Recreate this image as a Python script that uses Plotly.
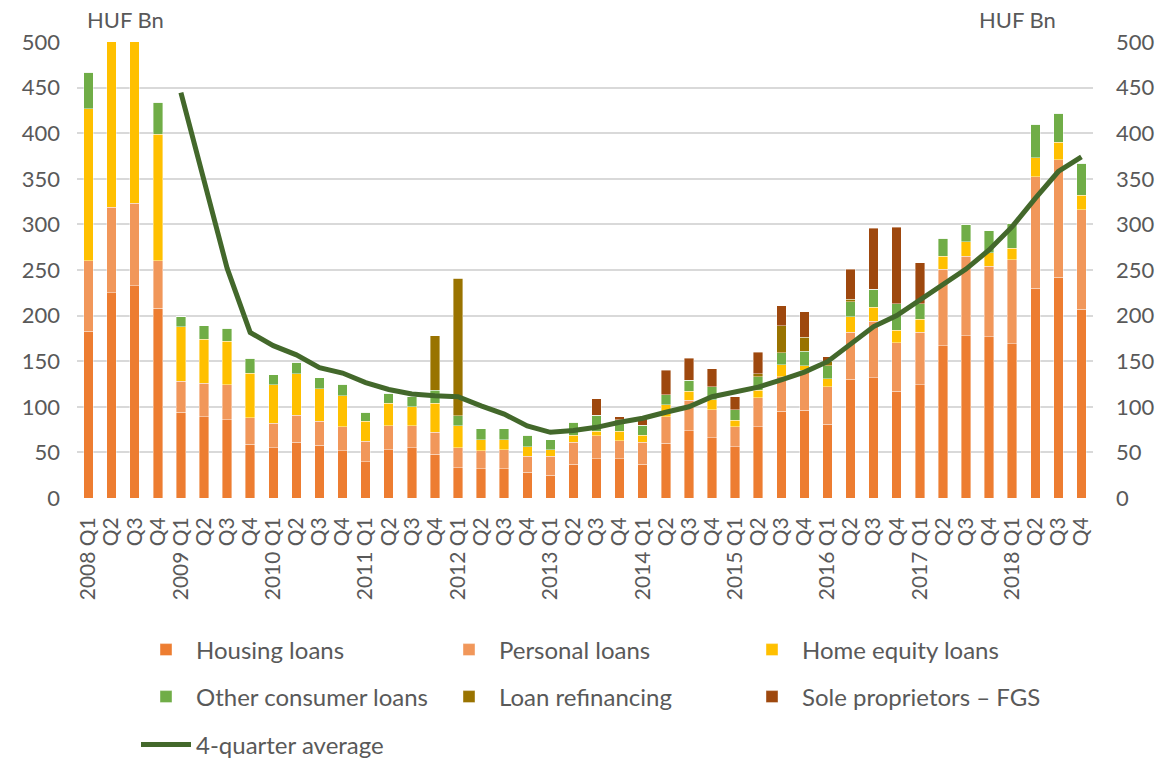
import plotly.graph_objects as go

years = list(range(2008, 2019))
quarters = [f"{y} Q{q}" for y in years for q in range(1, 5)]
tick_text = [f"{y} Q1" if q == 1 else f"Q{q}" for y in years for q in range(1, 5)]

housing = [183, 225, 233, 208, 94, 89, 86, 59, 55, 61, 58, 52,
           40, 53, 55, 48, 33, 32, 32, 28, 25, 37, 43, 43,
           37, 60, 74, 66, 56, 78, 95, 96, 81, 130, 132, 117,
           124, 167, 178, 177, 169, 230, 242, 207]
personal = [77, 94, 90, 52, 34, 37, 38, 29, 27, 30, 26, 26,
            22, 26, 24, 24, 22, 20, 21, 18, 21, 24, 25, 20,
            24, 29, 33, 31, 22, 32, 38, 44, 41, 52, 62, 53,
            58, 84, 87, 77, 92, 122, 129, 109]
home_equity = [167, 200, 200, 139, 60, 48, 48, 49, 42, 45, 36, 34,
               22, 25, 21, 32, 24, 12, 11, 10, 7, 8, 5, 10,
               8, 13, 10, 11, 7, 8, 13, 5, 9, 17, 15, 14,
               14, 14, 16, 15, 13, 21, 19, 16]
other_consumer = [40, 40, 40, 35, 11, 15, 14, 16, 11, 13, 12, 13,
                  10, 11, 11, 14, 11, 12, 12, 13, 11, 14, 18, 13,
                  11, 11, 12, 14, 12, 15, 13, 16, 14, 16, 20, 29,
                  17, 20, 19, 24, 27, 37, 32, 35]
refinancing = [0, 0, 0, 0, 0, 0, 0, 0, 0, 0, 0, 0,
               0, 0, 0, 60, 151, 0, 0, 0, 0, 0, 0, 0,
               0, 0, 0, 0, 0, 3, 30, 15, 5, 3, 0, 0,
               0, 0, 0, 0, 0, 0, 0, 0]
sole_prop = [0, 0, 0, 0, 0, 0, 0, 0, 0, 0, 0, 0,
             0, 0, 0, 0, 0, 0, 0, 0, 0, 0, 18, 3,
             9, 27, 24, 20, 14, 24, 22, 28, 5, 33, 67, 84,
             45, 0, 0, 0, 0, 0, 0, 0]
avg4q = [None, None, None, None, 444.5, 348, 252, 181.5, 167, 157, 143, 137,
         126.5, 119, 114, 112, 111, 101, 92, 79, 72, 74, 77.5, 83,
         87.5, 94, 100, 111, 116.5, 121.5, 129.5, 138, 149.5, 169.5, 188, 200,
         217, 232.5, 251, 272, 297.5, 328.5, 358, 374]

series = [
    ("Housing loans", housing, "#ed7d31", "legend"),
    ("Personal loans", personal, "#f1975a", "legend"),
    ("Home equity loans", home_equity, "#ffc000", "legend"),
    ("Other consumer loans", other_consumer, "#70ad47", "legend2"),
    ("Loan refinancing", refinancing, "#997300", "legend2"),
    ("Sole proprietors – FGS", sole_prop, "#9e480e", "legend2"),
]

FONT = "Lato"
GREY = "#595959"

fig = go.Figure()
for name, vals, color, leg in series:
    fig.add_trace(go.Bar(
        x=quarters, y=vals, name=name, marker_color=color,
        marker_line=dict(color="rgba(255,255,255,0.5)", width=0.8),
        legend=leg, yaxis="y",
    ))

fig.add_trace(go.Scatter(
    x=quarters, y=avg4q, name="4-quarter average", mode="lines",
    line=dict(color="#43682b", width=5), legend="legend3", yaxis="y2",
))

L, R, T, B = 77, 71, 42, 262
W, H = 1164, 760
ph = H - T - B

def py(pix):
    return (H - B - pix) / ph

def px(pix):
    return (pix - L) / (W - L - R)

def cy(pix):
    return 1 - pix / H

def cx(pix):
    return pix / W

leg_common = dict(orientation="h", xanchor="left", yanchor="middle",
                  xref="container", yref="container",
                  font=dict(family=FONT, size=24, color=GREY),
                  itemwidth=50, entrywidth=238, entrywidthmode="pixels",
                  bgcolor="rgba(0,0,0,0)", traceorder="normal")

fig.update_layout(
    width=W, height=H,
    margin=dict(l=L, r=R, t=T, b=B, autoexpand=False),
    paper_bgcolor="white", plot_bgcolor="white",
    barmode="stack", bargap=0.59,
    font=dict(family=FONT, size=21, color=GREY),
    showlegend=True,
    legend=dict(x=cx(136), y=cy(650), **leg_common),
    legend2=dict(x=cx(136), y=cy(697), **leg_common),
    legend3=dict(x=cx(136), y=cy(745), **leg_common),
    xaxis=dict(
        type="category", tickmode="array", tickvals=quarters, ticktext=tick_text,
        tickangle=-90, tickfont=dict(family=FONT, size=21, color=GREY),
        showgrid=False, showline=False, ticks="", ticklabelstandoff=14,
    ),
    yaxis=dict(
        range=[0, 500], dtick=50, showgrid=True, gridcolor="#d9d9d9", gridwidth=2,
        zeroline=False, showline=False, ticks="",
        tickfont=dict(family=FONT, size=22, color=GREY), ticklabelstandoff=16,
    ),
    yaxis2=dict(
        range=[0, 500], dtick=50, overlaying="y", side="right", showgrid=False,
        zeroline=False, showline=False, ticks="",
        tickfont=dict(family=FONT, size=22, color=GREY), ticklabelstandoff=22,
    ),
    annotations=[
        dict(text="HUF Bn", x=px(85), y=py(20), xref="paper", yref="paper",
             xanchor="left", yanchor="middle", showarrow=False,
             font=dict(family=FONT, size=22, color=GREY)),
        dict(text="HUF Bn", x=px(1058), y=py(20), xref="paper", yref="paper",
             xanchor="right", yanchor="middle", showarrow=False,
             font=dict(family=FONT, size=22, color=GREY)),
    ],
)

fig.write_html("out.html", config={"displayModeBar": False},
               post_script="document.body.style.margin='0px';")
